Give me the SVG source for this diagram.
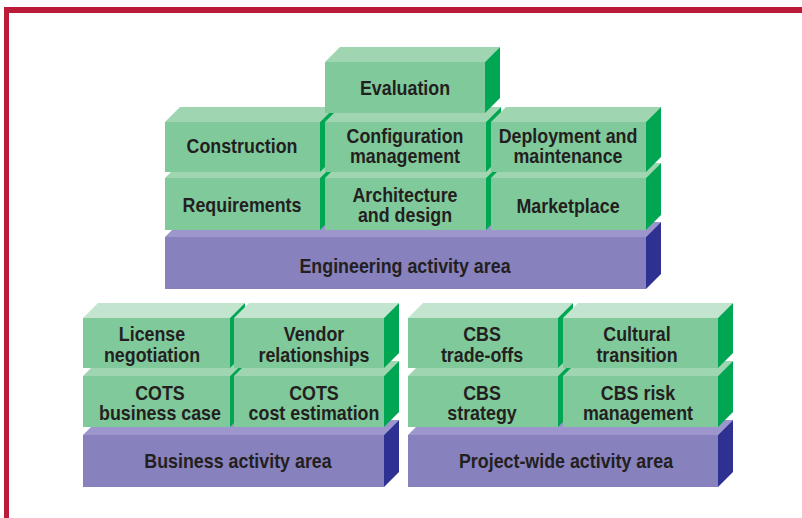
<svg xmlns="http://www.w3.org/2000/svg" width="802" height="518" viewBox="0 0 802 518">
<style>
.front{fill:#80c99b}
.top{fill:#9fd5b1}
.topl{fill:#c3e5cf}
.side{fill:#00a651}
.pfront{fill:#8781bd}
.ptop{fill:#9c96cc}
.pside{fill:#2e3192}
.lbl{font-family:"Liberation Sans",Arial,sans-serif;font-weight:bold;font-size:21px;fill:#231f20;text-anchor:middle}
</style>
<rect x="0" y="0" width="802" height="518" fill="#ffffff"/>
<g id="frame">
<rect x="4" y="7" width="798" height="6" fill="#bb1a38"/>
<rect x="4" y="7" width="5" height="511" fill="#bb1a38"/>
</g>

<!-- Engineering group -->
<g id="engineering-area">
<polygon class="ptop" points="165,237 646,237 661,222 180,222"/>
<polygon class="pside" points="646,237 661,222 661,274 646,289"/>
<rect class="pfront" x="165" y="237" width="481" height="52"/>
<text class="lbl" transform="translate(405,273) scale(0.85,1)">Engineering activity area</text>
</g>
<g id="requirements">
<polygon class="top" points="165,178 320,178 335,163 180,163"/>
<polygon class="side" points="320,178 335,163 335,215 320,230"/>
<rect class="front" x="165" y="178" width="155" height="52"/>
<text class="lbl" transform="translate(242,212) scale(0.85,1)">Requirements</text>
</g>
<g id="architecture">
<polygon class="top" points="325,178 486,178 501,163 340,163"/>
<polygon class="side" points="486,178 501,163 501,215 486,230"/>
<rect class="front" x="325" y="178" width="161" height="52"/>
<text class="lbl" transform="translate(405,202) scale(0.85,1)">Architecture</text>
<text class="lbl" transform="translate(405,222) scale(0.85,1)">and design</text>
</g>
<g id="marketplace">
<polygon class="top" points="491,178 646,178 661,163 506,163"/>
<polygon class="side" points="646,178 661,163 661,215 646,230"/>
<rect class="front" x="491" y="178" width="155" height="52"/>
<text class="lbl" transform="translate(568,213) scale(0.85,1)">Marketplace</text>
</g>
<g id="construction">
<polygon class="top" points="165,122 320,122 335,107 180,107"/>
<polygon class="side" points="320,122 335,107 335,157 320,172"/>
<rect class="front" x="165" y="122" width="155" height="50"/>
<text class="lbl" transform="translate(242,153) scale(0.85,1)">Construction</text>
</g>
<g id="configuration">
<polygon class="top" points="325,122 486,122 501,107 340,107"/>
<polygon class="side" points="486,122 501,107 501,157 486,172"/>
<rect class="front" x="325" y="122" width="161" height="50"/>
<text class="lbl" transform="translate(405,143) scale(0.85,1)">Configuration</text>
<text class="lbl" transform="translate(405,163) scale(0.85,1)">management</text>
</g>
<g id="deployment">
<polygon class="top" points="491,122 646,122 661,107 506,107"/>
<polygon class="side" points="646,122 661,107 661,157 646,172"/>
<rect class="front" x="491" y="122" width="155" height="50"/>
<text class="lbl" transform="translate(568,143) scale(0.85,1)">Deployment and</text>
<text class="lbl" transform="translate(568,163) scale(0.85,1)">maintenance</text>
</g>
<g id="evaluation">
<polygon class="top" points="325,62 485,62 500,47 340,47"/>
<polygon class="side" points="485,62 500,47 500,98 485,113"/>
<rect class="front" x="325" y="62" width="160" height="51"/>
<text class="lbl" transform="translate(405,95) scale(0.85,1)">Evaluation</text>
</g>

<!-- Business group -->
<g id="business-area">
<polygon class="ptop" points="83,435 384,435 399,420 98,420"/>
<polygon class="pside" points="384,435 399,420 399,472 384,487"/>
<rect class="pfront" x="83" y="435" width="301" height="52"/>
<text class="lbl" transform="translate(238,468) scale(0.85,1)">Business activity area</text>
</g>
<g id="cots-business-case">
<polygon class="top" points="83,376 230,376 245,361 98,361"/>
<polygon class="side" points="230,376 245,361 245,412 230,427"/>
<rect class="front" x="83" y="376" width="147" height="51"/>
<text class="lbl" transform="translate(160,400) scale(0.85,1)">COTS</text>
<text class="lbl" transform="translate(160,420) scale(0.85,1)">business case</text>
</g>
<g id="cots-cost-estimation">
<polygon class="top" points="234,376 384,376 399,361 249,361"/>
<polygon class="side" points="384,376 399,361 399,412 384,427"/>
<rect class="front" x="234" y="376" width="150" height="51"/>
<text class="lbl" transform="translate(314,400) scale(0.85,1)">COTS</text>
<text class="lbl" transform="translate(314,420) scale(0.85,1)">cost estimation</text>
</g>
<g id="license-negotiation">
<polygon class="topl" points="83,318 230,318 245,303 98,303"/>
<polygon class="side" points="230,318 245,303 245,353 230,368"/>
<rect class="front" x="83" y="318" width="147" height="50"/>
<text class="lbl" transform="translate(152,341) scale(0.85,1)">License</text>
<text class="lbl" transform="translate(152,362) scale(0.85,1)">negotiation</text>
</g>
<g id="vendor-relationships">
<polygon class="topl" points="234,318 384,318 399,303 249,303"/>
<polygon class="side" points="384,318 399,303 399,353 384,368"/>
<rect class="front" x="234" y="318" width="150" height="50"/>
<text class="lbl" transform="translate(314,341) scale(0.85,1)">Vendor</text>
<text class="lbl" transform="translate(314,362) scale(0.85,1)">relationships</text>
</g>

<!-- Project-wide group -->
<g id="project-area">
<polygon class="ptop" points="408,435 718,435 733,420 423,420"/>
<polygon class="pside" points="718,435 733,420 733,472 718,487"/>
<rect class="pfront" x="408" y="435" width="310" height="52"/>
<text class="lbl" transform="translate(566,468) scale(0.85,1)">Project-wide activity area</text>
</g>
<g id="cbs-strategy">
<polygon class="top" points="408,376 558,376 573,361 423,361"/>
<polygon class="side" points="558,376 573,361 573,412 558,427"/>
<rect class="front" x="408" y="376" width="150" height="51"/>
<text class="lbl" transform="translate(482,400) scale(0.85,1)">CBS</text>
<text class="lbl" transform="translate(482,420) scale(0.85,1)">strategy</text>
</g>
<g id="cbs-risk-management">
<polygon class="top" points="563,376 718,376 733,361 578,361"/>
<polygon class="side" points="718,376 733,361 733,412 718,427"/>
<rect class="front" x="563" y="376" width="155" height="51"/>
<text class="lbl" transform="translate(638,400) scale(0.85,1)">CBS risk</text>
<text class="lbl" transform="translate(638,420) scale(0.85,1)">management</text>
</g>
<g id="cbs-trade-offs">
<polygon class="topl" points="408,318 558,318 573,303 423,303"/>
<polygon class="side" points="558,318 573,303 573,353 558,368"/>
<rect class="front" x="408" y="318" width="150" height="50"/>
<text class="lbl" transform="translate(482,341) scale(0.85,1)">CBS</text>
<text class="lbl" transform="translate(482,362) scale(0.85,1)">trade-offs</text>
</g>
<g id="cultural-transition">
<polygon class="topl" points="563,318 718,318 733,303 578,303"/>
<polygon class="side" points="718,318 733,303 733,353 718,368"/>
<rect class="front" x="563" y="318" width="155" height="50"/>
<text class="lbl" transform="translate(637,341) scale(0.85,1)">Cultural</text>
<text class="lbl" transform="translate(637,362) scale(0.85,1)">transition</text>
</g>
<g id="connectors"></g>
</svg>
